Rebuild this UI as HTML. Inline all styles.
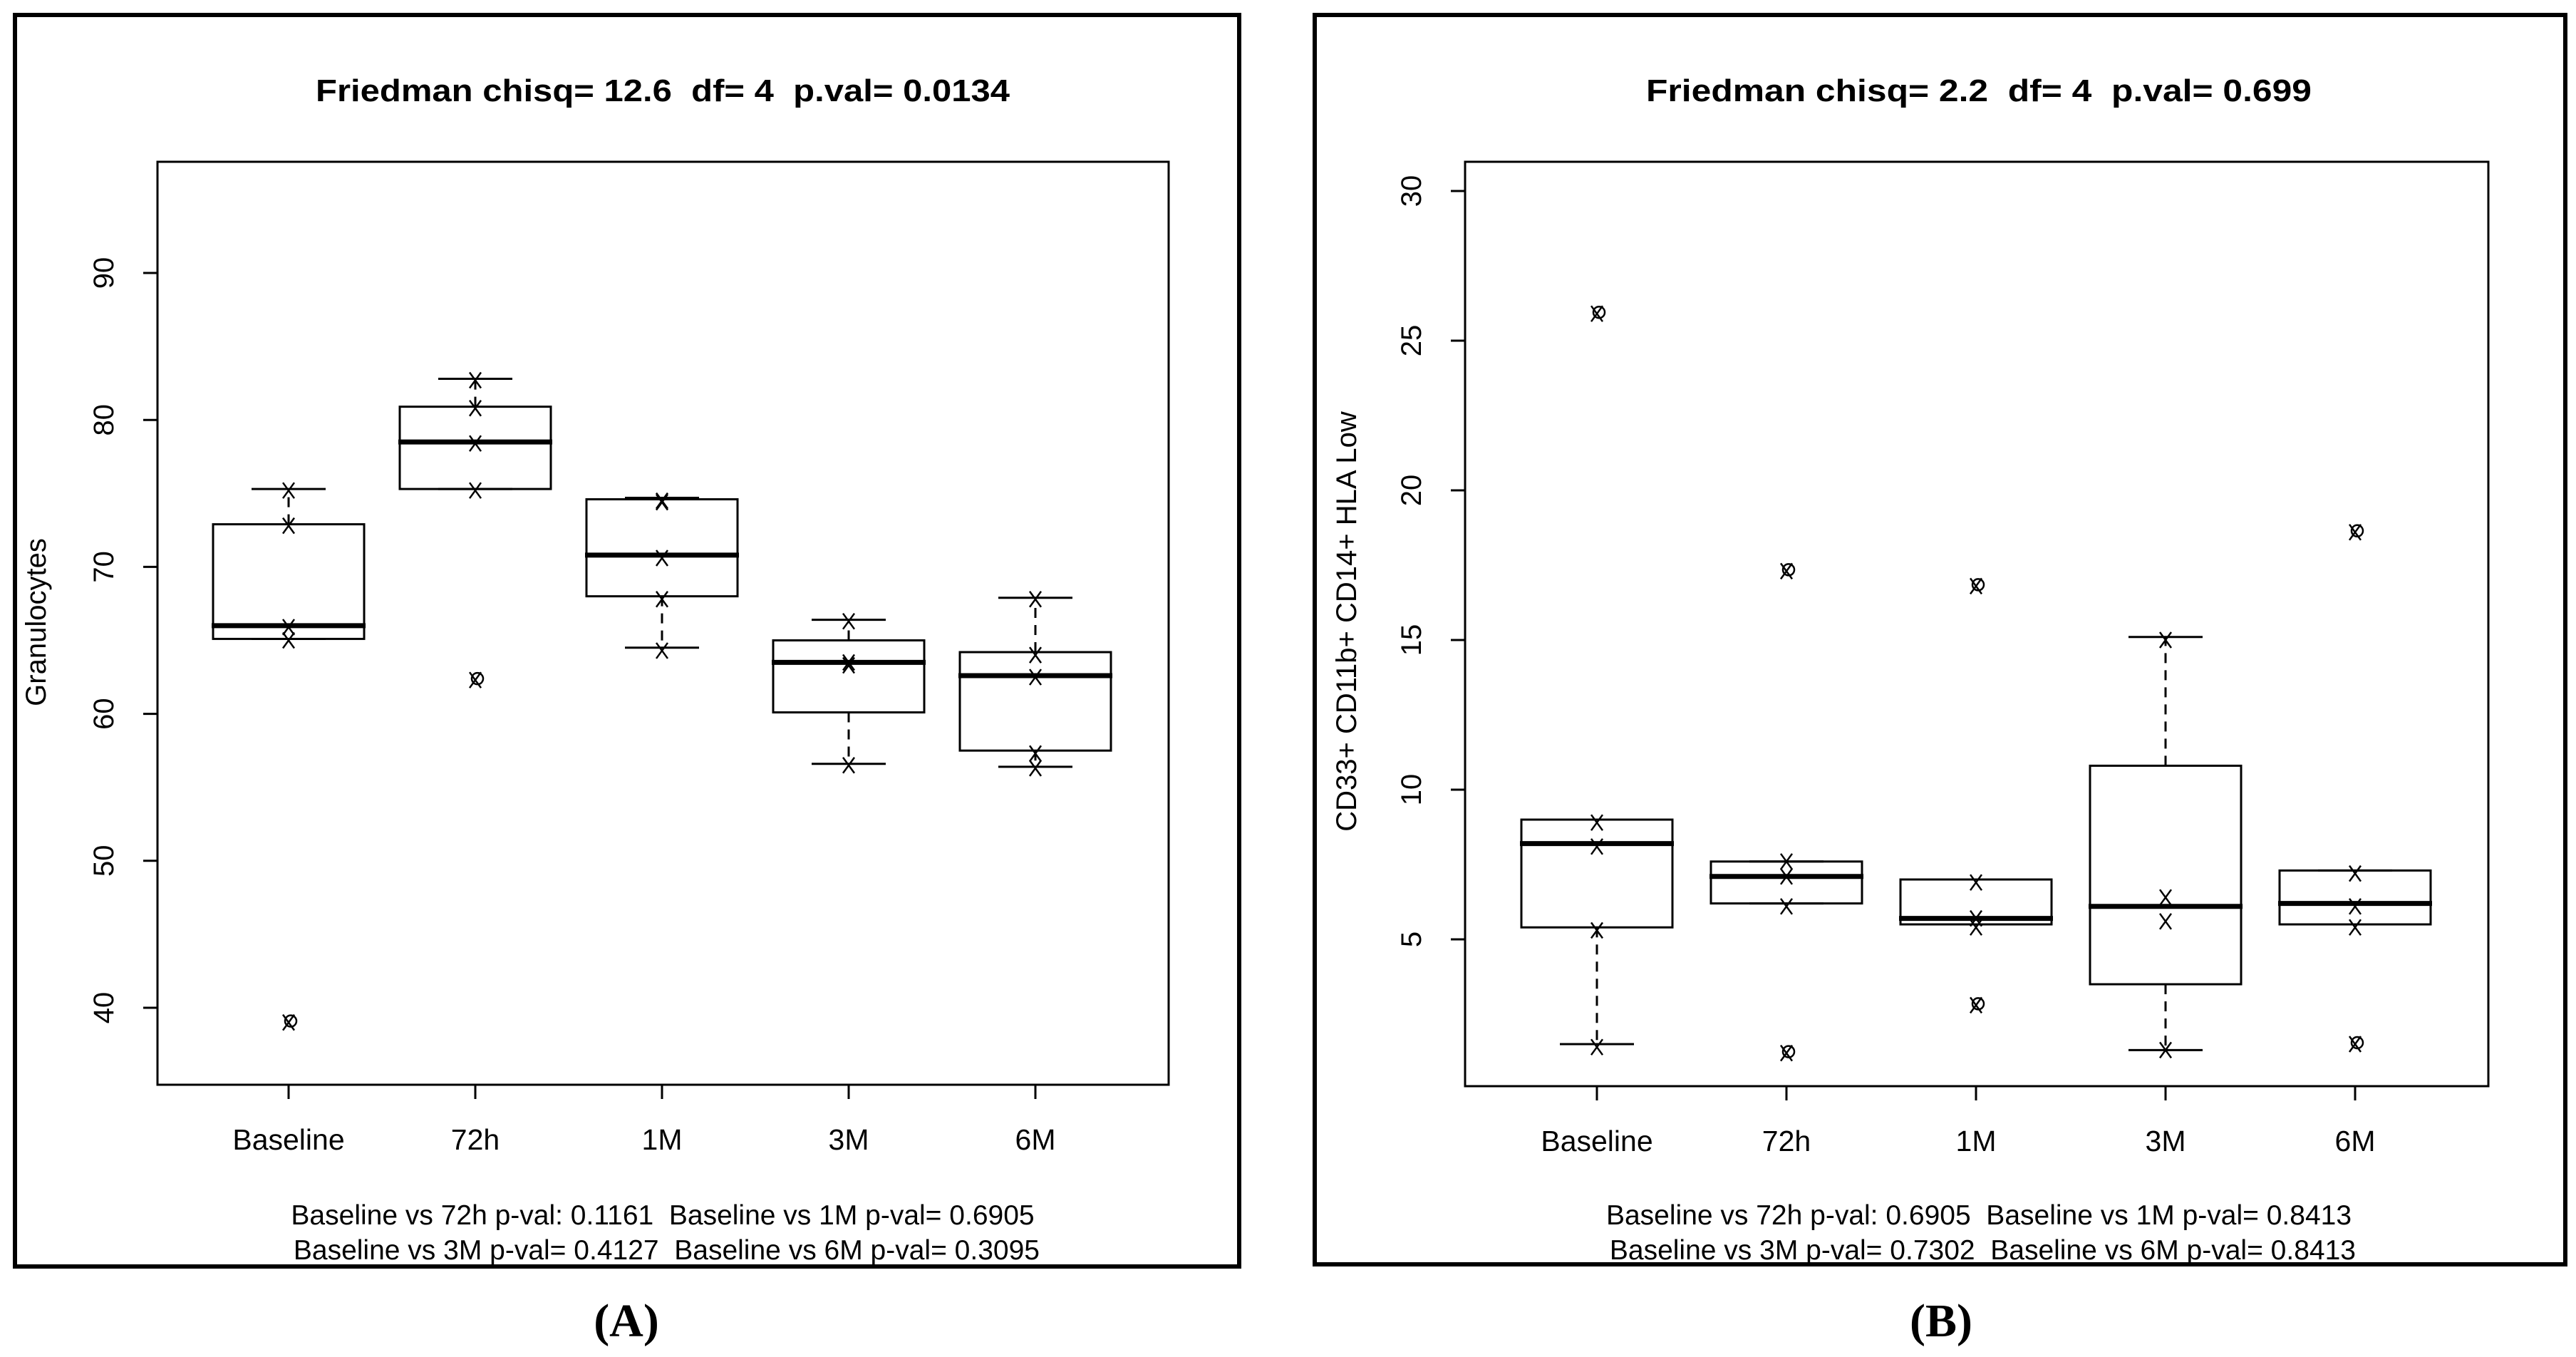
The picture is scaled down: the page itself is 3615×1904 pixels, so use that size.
<!DOCTYPE html>
<html><head><meta charset="utf-8"><style>
html,body{margin:0;padding:0;background:#fff;}
svg{display:block;font-family:"Liberation Sans",Arial,sans-serif;}
svg text{white-space:pre;}
</style></head><body>
<svg id="fig" width="3615" height="1904" viewBox="0 0 3615 1904" xmlns="http://www.w3.org/2000/svg" xml:space="preserve">
<rect x="0" y="0" width="3615" height="1904" fill="#fff"/>
<rect x="21" y="21" width="1718" height="1756" fill="none" stroke="#000" stroke-width="6"/>
<rect x="1845" y="21" width="1755" height="1753" fill="none" stroke="#000" stroke-width="6"/>
<text x="879" y="1875" font-family="Liberation Serif,serif" font-weight="bold" font-size="66" text-anchor="middle">(A)</text>
<text x="2724" y="1875" font-family="Liberation Serif,serif" font-weight="bold" font-size="66" text-anchor="middle">(B)</text>
</svg>
<script>
// Panel A data
const categories = ["Baseline","72h","1M","3M","6M"];
const aQ1 = [65.1,75.3,68.0,60.1,57.5];
const aMed = [66.0,78.5,70.8,63.5,62.6];
const aQ3 = [72.9,80.9,74.6,65.0,64.2];
const aWhiskLo = [65.1,75.3,64.5,56.6,56.4];
const aWhiskHi = [75.3,82.8,74.7,66.4,67.9];
const aPoints = [[75.2,72.8,65.9,65.0],[82.7,80.8,78.4,75.2],[74.5,74.4,70.6,67.8,64.3],[66.3,63.5,63.3,56.5],[67.8,64.0,62.5,57.3,56.3]];
const aOutliers = [[39.0],[62.3],[],[],[]];
const aTicks = [40,50,60,70,80,90];
// Panel B data
const bQ1 = [5.4,6.2,5.5,3.5,5.5];
const bMed = [8.2,7.1,5.7,6.1,6.2];
const bQ3 = [9.0,7.6,7.0,10.8,7.3];
const bWhiskLo = [1.5,6.2,5.5,1.3,5.5];
const bWhiskHi = [9.0,7.6,7.0,15.1,7.3];
const bPoints = [[8.9,8.1,5.3,1.4],[7.6,7.1,6.1],[6.9,5.7,5.4],[15.0,6.4,5.6,1.3],[7.2,6.1,5.4]];
const bOutliers = [[25.9],[17.3,1.2],[16.8,2.8],[],[18.6,1.5]];
const bTicks = [5,10,15,20,25,30];

const NS="http://www.w3.org/2000/svg";
const svg=document.getElementById('fig');
function mk(tag,attrs,parent){const e=document.createElementNS(NS,tag);for(const k in attrs)e.setAttribute(k,attrs[k]);(parent||svg).appendChild(e);return e;}

function panel(cfg){
  const g=mk('g',{});
  
  
  const y=v=>cfg.y0px+(v-cfg.y0)*(cfg.y1px-cfg.y0px)/(cfg.y1-cfg.y0);
  const x=i=>cfg.x0px+i*cfg.dx;
  const area=mk('rect',{x:cfg.L,y:cfg.T,width:cfg.R-cfg.L,height:cfg.B-cfg.T,fill:'none',stroke:'#000','stroke-width':3},g);
  
  
  const t=mk('text',{x:cfg.titleX,y:142,'font-size':44,'font-weight':'bold','text-anchor':'middle',textLength:cfg.titleW,lengthAdjust:'spacingAndGlyphs'},g);
  t.textContent=cfg.title;
  
  
  cfg.ticks.forEach(v=>{
    const tk=mk('line',{x1:cfg.L-20,x2:cfg.L,y1:y(v),y2:y(v),stroke:'#000','stroke-width':3},g);
    
    
    const tl=mk('text',{x:0,y:0,'font-size':40,'text-anchor':'middle',transform:`translate(${cfg.L-62},${y(v)}) rotate(-90)`},g);
    tl.textContent=v;
    
    
  });
  const yl=mk('text',{x:0,y:0,'font-size':40,'text-anchor':'middle',transform:`translate(${cfg.ylabX},${cfg.ylabY}) rotate(-90)`},g);
  yl.textContent=cfg.ylab;
  
  
  categories.forEach((c,i)=>{
    const cx=x(i);
    const tk=mk('line',{x1:cx,x2:cx,y1:cfg.B,y2:cfg.B+20,stroke:'#000','stroke-width':3},g);
    
    
    const tl=mk('text',{x:cx,y:cfg.B+91,'font-size':41,'text-anchor':'middle'},g);
    tl.textContent=c;
    
    
    if(cfg.whi[i]>cfg.q3[i]){
      const w=mk('line',{x1:cx,x2:cx,y1:y(cfg.q3[i]),y2:y(cfg.whi[i]),stroke:'#000','stroke-width':3,'stroke-dasharray':'14,10'},g);
      
      
    }
    if(cfg.wlo[i]<cfg.q1[i]){
      const w=mk('line',{x1:cx,x2:cx,y1:y(cfg.q1[i]),y2:y(cfg.wlo[i]),stroke:'#000','stroke-width':3,'stroke-dasharray':'14,10'},g);
      
      
    }
    const c1=mk('line',{x1:cx-52,x2:cx+52,y1:y(cfg.whi[i]),y2:y(cfg.whi[i]),stroke:'#000','stroke-width':3},g);
    
    
    const c2=mk('line',{x1:cx-52,x2:cx+52,y1:y(cfg.wlo[i]),y2:y(cfg.wlo[i]),stroke:'#000','stroke-width':3},g);
    
    
    const b=mk('rect',{x:cx-106,y:y(cfg.q3[i]),width:212,height:y(cfg.q1[i])-y(cfg.q3[i]),fill:'none',stroke:'#000','stroke-width':3},g);
    
    
    const m=mk('line',{x1:cx-108,x2:cx+108,y1:y(cfg.med[i]),y2:y(cfg.med[i]),stroke:'#000','stroke-width':7},g);
    
    
    cfg.pts[i].forEach(v=>{
      const p=mk('path',{d:`M${cx-8},${y(v)-11}L${cx+8},${y(v)+11}M${cx+8},${y(v)-11}L${cx-8},${y(v)+11}`,stroke:'#000','stroke-width':2.5,fill:'none'},g);
      
      
    });
    cfg.out[i].forEach(v=>{
      const p=mk('path',{d:`M${cx-8},${y(v)-11}L${cx+8},${y(v)+11}M${cx+8},${y(v)-11}L${cx-8},${y(v)+11}`,stroke:'#000','stroke-width':2.5,fill:'none'},g);
      
      
      const o=mk('circle',{cx:cx+3,cy:y(v)-2,r:8,stroke:'#000','stroke-width':2.5,fill:'none'},g);
      
      
    });
  });
  cfg.foot.forEach((s,k)=>{
    const f=mk('text',{x:cfg.footX,y:1718+k*49,'font-size':39,'text-anchor':'middle'},g);
    f.textContent=s;
    
    
  });
}

panel({name:'panel-a-granulocytes',L:221,R:1640,T:227,B:1522,x0px:405,dx:262,y0:40,y1:90,y0px:1414,y1px:383,
  q1:aQ1,med:aMed,q3:aQ3,wlo:aWhiskLo,whi:aWhiskHi,pts:aPoints,out:aOutliers,ticks:aTicks,
  title:'Friedman chisq= 12.6  df= 4  p.val= 0.0134',titleX:930,titleW:974,ylab:'Granulocytes',ylabX:64,ylabY:873,
  footX:930,foot:['Baseline vs 72h p-val: 0.1161  Baseline vs 1M p-val= 0.6905',' Baseline vs 3M p-val= 0.4127  Baseline vs 6M p-val= 0.3095']});
panel({name:'panel-b-cd33-cd11b-cd14',L:2056,R:3492,T:227,B:1524,x0px:2241,dx:266,y0:5,y1:30,y0px:1318,y1px:268,
  q1:bQ1,med:bMed,q3:bQ3,wlo:bWhiskLo,whi:bWhiskHi,pts:bPoints,out:bOutliers,ticks:bTicks,
  title:'Friedman chisq= 2.2  df= 4  p.val= 0.699',titleX:2777,titleW:934,ylab:'CD33+ CD11b+ CD14+ HLA Low',ylabX:1903,ylabY:872,
  footX:2777,foot:['Baseline vs 72h p-val: 0.6905  Baseline vs 1M p-val= 0.8413',' Baseline vs 3M p-val= 0.7302  Baseline vs 6M p-val= 0.8413']});
</script>
</body></html>
